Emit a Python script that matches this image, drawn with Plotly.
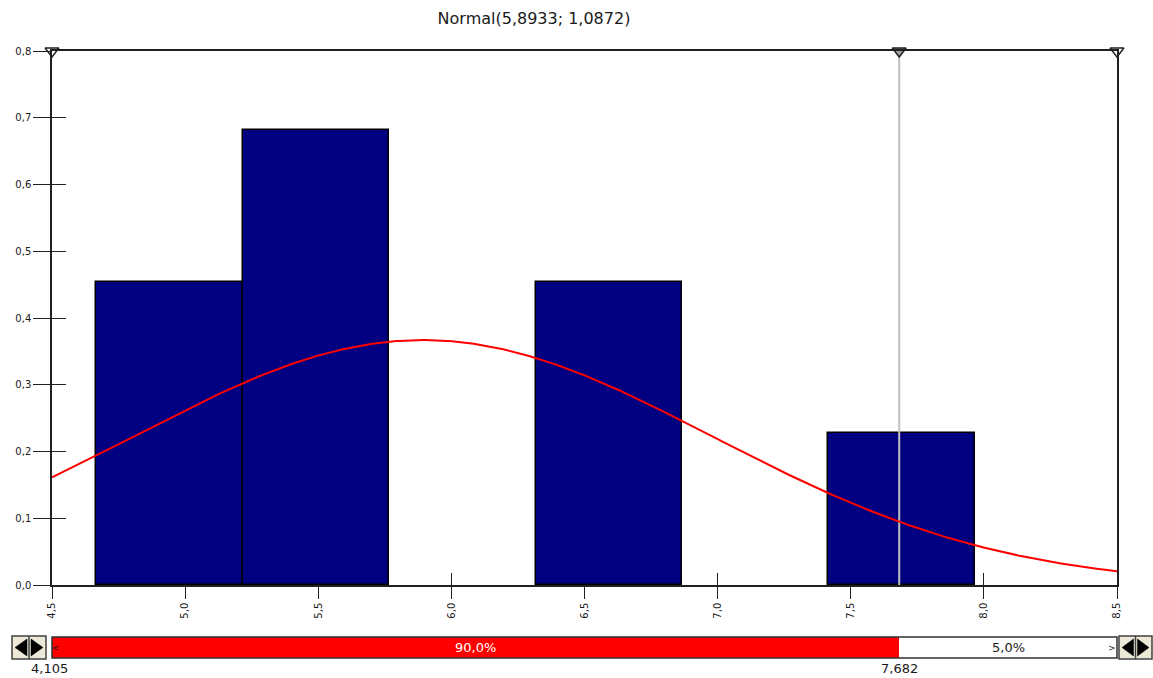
import numpy as np
import plotly.graph_objects as go

# Fitted distribution parameters
mu = 5.8933
sigma = 1.0872

# Histogram bins (left edges), counts and bin width
bin_left = [4.666, 5.216, 5.766, 6.316, 6.866, 7.416]
bin_count = [2, 3, 0, 2, 0, 1]
bin_width = 0.55
n_obs = 8

# Markers along the top edge and the selected percentile range
marker_x = [4.5, 7.682, 8.5]
marker_fill = ["white", "#a0a0a0", "white"]
range_low = 4.105
range_high = 7.682
pct_inside = "90,0%"
pct_right = "5,0%"

x_min, x_max = 4.5, 8.5
y_min, y_max = 0.0, 0.8

# Layout geometry in pixels
W, H = 1153, 678
ML, MR, MT, MB = 52, 36, 51, 18
PW, PH = W - ML - MR, H - MT - MB


def px(xp):
    return (xp - ML) / PW


def py(yp):
    return (H - MB - yp) / PH


main_bottom = py(585)
slider_dom = [py(658), py(637)]

# Only non-empty bins get a bar
bin_center = [l + bin_width / 2 for l, c in zip(bin_left, bin_count) if c > 0]
density = [c / (n_obs * bin_width) for c in bin_count if c > 0]

xs = np.linspace(x_min, x_max, 400)
pdf = np.exp(-0.5 * ((xs - mu) / sigma) ** 2) / (sigma * np.sqrt(2 * np.pi))

FONT = "DejaVu Sans, Verdana, sans-serif"
INK = "#1a1a1a"

fig = go.Figure()

fig.add_trace(go.Bar(
    x=bin_center, y=density, width=bin_width,
    marker=dict(color="#000080", line=dict(color="black", width=1.5)),
    xaxis="x", yaxis="y", showlegend=False, hoverinfo="skip",
))

fig.add_trace(go.Scatter(
    x=[range_high, range_high], y=[y_min, y_max], mode="lines",
    line=dict(color="#c0c0c0", width=2), showlegend=False, hoverinfo="skip",
))

fig.add_trace(go.Scatter(
    x=xs, y=pdf, mode="lines", line=dict(color="#ff0000", width=2),
    showlegend=False, hoverinfo="skip",
))

fig.add_trace(go.Scatter(
    x=marker_x, y=[y_max] * len(marker_x), mode="markers",
    marker=dict(symbol="triangle-down", size=12, color=marker_fill,
                line=dict(color="#202020", width=1.4)),
    cliponaxis=False, showlegend=False, hoverinfo="skip",
))

# Range slider bar
fig.add_trace(go.Bar(
    y=[0.5], x=[x_max - range_high], base=[range_high], orientation="h", width=1,
    marker=dict(color="white", line=dict(width=0)),
    xaxis="x2", yaxis="y2", showlegend=False, hoverinfo="skip",
))
fig.add_trace(go.Bar(
    y=[0.5], x=[range_high - range_low], base=[range_low], orientation="h", width=1,
    marker=dict(color="#ff0000", line=dict(width=0)),
    xaxis="x2", yaxis="y2", showlegend=False, hoverinfo="skip",
))

# Dummy trace so the overlay tick axes are drawn
fig.add_trace(go.Scatter(x=[None], y=[None], xaxis="x3", yaxis="y3",
                         showlegend=False, hoverinfo="skip"))

tick_font = dict(family=FONT, size=10, color=INK)

fig.update_layout(
    width=W, height=H,
    margin=dict(l=ML, r=MR, t=MT, b=MB, pad=0),
    paper_bgcolor="white", plot_bgcolor="white",
    separators=",.",
    bargap=0,
    barmode="overlay",
    font=tick_font,
    title=dict(text="Normal(5,8933; 1,0872)", x=(534 / W), xanchor="center",
               y=1 - 18 / H, yanchor="middle",
               font=dict(family=FONT, size=16, color=INK)),
    xaxis=dict(
        range=[x_min, x_max], domain=[0, 1], anchor="y",
        tickmode="linear", tick0=4.5, dtick=0.5, tickformat=".1f",
        ticks="outside", ticklen=12, tickwidth=1.2, tickcolor="#202020",
        tickangle=-90, tickfont=tick_font,
        showline=True, linecolor="#202020", linewidth=1.5, mirror=True,
        showgrid=False, zeroline=False, fixedrange=True,
    ),
    xaxis3=dict(
        range=[x_min, x_max], overlaying="x", anchor="y", side="bottom",
        tickmode="linear", tick0=4.5, dtick=0.5,
        ticks="inside", ticklen=12, tickwidth=1.2, tickcolor="#202020",
        showticklabels=False, showline=False, showgrid=False, zeroline=False,
        layer="below traces",
    ),
    yaxis=dict(
        range=[y_min, y_max], domain=[main_bottom, 1], anchor="x",
        tickmode="linear", tick0=0, dtick=0.1, tickformat=".1f",
        ticks="outside", ticklen=17, tickwidth=1.2, tickcolor="#202020",
        tickfont=tick_font,
        showline=True, linecolor="#202020", linewidth=1.5, mirror=True,
        showgrid=False, zeroline=False, fixedrange=True,
    ),
    yaxis3=dict(
        range=[y_min, y_max], overlaying="y", anchor="x", side="left",
        tickmode="array", tickvals=[0.1, 0.2, 0.3, 0.4, 0.5, 0.6, 0.7],
        ticks="inside", ticklen=14, tickwidth=1.2, tickcolor="#202020",
        showticklabels=False, showline=False, showgrid=False, zeroline=False,
        layer="below traces",
    ),
    xaxis2=dict(range=[x_min, x_max], domain=[0, 1], anchor="y2", visible=False,
                fixedrange=True),
    yaxis2=dict(range=[0, 1], domain=slider_dom, anchor="x2", visible=False,
                fixedrange=True),
)

shapes = []
# Slider outline
shapes.append(dict(type="rect", xref="x2 domain", yref="y2 domain",
                   x0=0, x1=1, y0=0, y1=1, line=dict(color="#303030", width=1.5),
                   fillcolor="rgba(0,0,0,0)", layer="above"))


# Spinner buttons on both ends of the slider
def spinner(x0p, x1p):
    y0, y1 = py(659), py(636)
    xm = (x0p + x1p) / 2
    out = [dict(type="rect", xref="paper", yref="paper", x0=px(x0p), x1=px(x1p),
                y0=y0, y1=y1, fillcolor="#ece9d8", line=dict(color="#404040", width=1.5)),
           dict(type="line", xref="paper", yref="paper", x0=px(xm), x1=px(xm),
                y0=y0, y1=y1, line=dict(color="#404040", width=1.5))]
    ym_p = (636 + 659) / 2
    lt = (f"M {px(x0p + 3)} {py(ym_p)} L {px(xm - 2)} {py(639)} "
          f"L {px(xm - 2)} {py(656)} Z")
    rt = (f"M {px(x1p - 3)} {py(ym_p)} L {px(xm + 2)} {py(639)} "
          f"L {px(xm + 2)} {py(656)} Z")
    out.append(dict(type="path", xref="paper", yref="paper", path=lt,
                    fillcolor="black", line=dict(color="black", width=0.5)))
    out.append(dict(type="path", xref="paper", yref="paper", path=rt,
                    fillcolor="black", line=dict(color="black", width=0.5)))
    return out


shapes += spinner(12, 46)
shapes += spinner(1119, 1152)
fig.update_layout(shapes=shapes)

lab_font = dict(family=FONT, size=13, color=INK)
pct_font_size = 13


def note(**kw):
    base = dict(showarrow=False, xanchor="center", yanchor="middle")
    base.update(kw)
    return base


annotations = [
    note(x=(x_min + range_high) / 2, y=0.5, xref="x2", yref="y2", text=pct_inside,
         font=dict(family=FONT, size=pct_font_size, color="white")),
    note(x=(range_high + x_max) / 2, y=0.5, xref="x2", yref="y2", text=pct_right,
         font=dict(family=FONT, size=pct_font_size, color=INK)),
    note(x=px(56), y=0.5, xref="paper", yref="y2", text="<",
         font=dict(family=FONT, size=9, color=INK)),
    note(x=px(1112), y=0.5, xref="paper", yref="y2", text=">",
         font=dict(family=FONT, size=9, color=INK)),
    note(x=px(49.5), y=py(668), xref="paper", yref="paper",
         text=f"{range_low:.3f}".replace(".", ","), font=lab_font),
    note(x=range_high, y=py(668), xref="x2", yref="paper",
         text=f"{range_high:.3f}".replace(".", ","), font=lab_font),
]
fig.update_layout(annotations=annotations)

fig.write_html("out.html")
